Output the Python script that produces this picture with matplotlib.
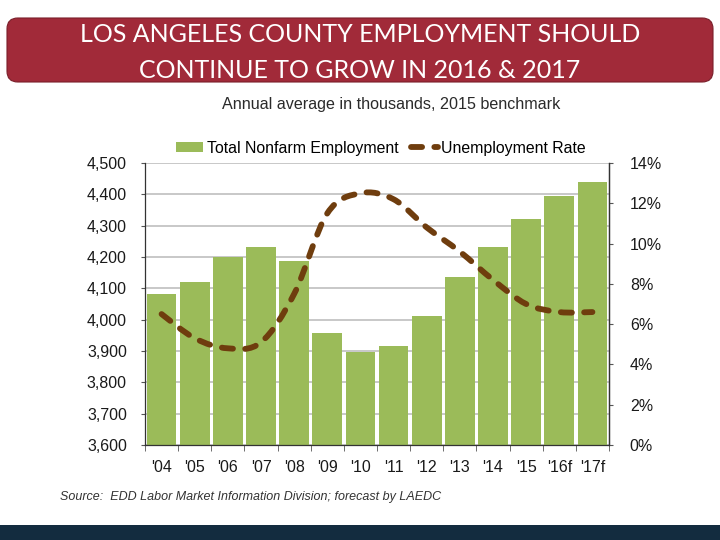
import numpy as np
import matplotlib
matplotlib.use("Agg")
import matplotlib.pyplot as plt
from matplotlib.patches import FancyBboxPatch, PathPatch, Rectangle, Patch
from matplotlib.path import Path
from matplotlib.lines import Line2D

years = ["'04", "'05", "'06", "'07", "'08", "'09", "'10", "'11", "'12", "'13", "'14", "'15", "'16f", "'17f"]
employment = [4081, 4119, 4199, 4232, 4187, 3956, 3896, 3915, 4011, 4136, 4232, 4322, 4395, 4440]
unemployment = [6.5, 5.3, 4.8, 5.1, 7.5, 11.5, 12.5, 12.2, 10.8, 9.6, 8.2, 7.0, 6.6, 6.6]
left_ticks = [3600, 3700, 3800, 3900, 4000, 4100, 4200, 4300, 4400, 4500]
right_ticks = [0, 2, 4, 6, 8, 10, 12, 14]

bar_color = "#9BBB59"
line_color = "#6F3D0E"
tfont = ["Lato", "DejaVu Sans"]

fig = plt.figure(figsize=(7.2, 5.4), dpi=100)
fig.patch.set_facecolor("white")

# Title banner
banner = FancyBboxPatch((7 / 720, 1 - 82 / 540), 706 / 720, 64 / 540,
                        boxstyle="round,pad=0,rounding_size=0.015",
                        transform=fig.transFigure, facecolor="#A12A39",
                        edgecolor="#7a1f2a", linewidth=0.8, mutation_aspect=720 / 540)
fig.patches.append(banner)
fig.text(0.5, 1 - 35 / 540, "LOS ANGELES COUNTY EMPLOYMENT SHOULD", color="white",
         ha="center", va="center", fontsize=18, family=tfont)
fig.text(0.5, 1 - 70 / 540, "CONTINUE TO GROW IN 2016 & 2017", color="white",
         ha="center", va="center", fontsize=18, family=tfont)

# bottom band
fig.patches.append(Rectangle((0, 0), 1, 15 / 540, transform=fig.transFigure,
                             facecolor="#132C3F", edgecolor="none"))

fig.text(391 / 720, 1 - 104 / 540, "Annual average in thousands, 2015 benchmark",
         ha="center", va="center", fontsize=11.6, color="#2a2a2a", family="Liberation Sans")

ax = fig.add_axes([145 / 720, 1 - 445 / 540, 464 / 720, 282 / 540])
x = np.arange(len(years))
ax.bar(x, employment, width=0.9, color=bar_color, zorder=2)
ax.set_ylim(3600, 4500)
ax.set_xlim(-0.5, len(years) - 0.5)
ax.set_yticks(left_ticks)
ax.set_yticklabels([f"{v:,}" for v in left_ticks])
ax.set_xticks(x)
ax.set_xticklabels(years)
ax.set_xticks(np.arange(-0.5, len(years), 1.0), minor=True)
ax.tick_params(axis="x", which="major", length=0, pad=11)
ax.tick_params(axis="x", which="minor", length=4, color="#555555")
ax.tick_params(axis="y", length=3, color="#555555", pad=10)
ax.grid(axis="y", color="#BFBFBF", linewidth=1.2, zorder=0)
ax.set_axisbelow(True)
for s in ["left", "bottom"]:
    ax.spines[s].set_color("#333333")
    ax.spines[s].set_linewidth(0.9)
ax.spines["top"].set_visible(False)
ax.spines["right"].set_color("#333333")
ax.spines["right"].set_linewidth(0.9)
for lab in ax.get_xticklabels() + ax.get_yticklabels():
    lab.set_fontfamily("Liberation Sans")
    lab.set_fontsize(11.5)
    lab.set_color("#1a1a1a")

ax2 = ax.twinx()
ax2.set_ylim(0, 14)
ax2.set_yticks(right_ticks)
ax2.set_yticklabels([f"{v}%" for v in right_ticks])
ax2.tick_params(axis="y", length=3, color="#555555", pad=12)
for s in ["left", "top", "bottom"]:
    ax2.spines[s].set_visible(False)
ax2.spines["right"].set_color("#333333")
ax2.spines["right"].set_linewidth(0.9)
for lab in ax2.get_yticklabels():
    lab.set_fontfamily("Liberation Sans")
    lab.set_fontsize(11.5)
    lab.set_color("#1a1a1a")

# smoothed line (Catmull-Rom as cubic Bezier)
P = np.column_stack([x, unemployment]).astype(float)
n = len(P)
verts = [tuple(P[0])]
codes = [Path.MOVETO]
for i in range(n - 1):
    p0 = P[i - 1] if i > 0 else P[i]
    p1 = P[i]
    p2 = P[i + 1]
    p3 = P[i + 2] if i + 2 < n else P[i + 1]
    c1 = p1 + (p2 - p0) / 6.0
    c2 = p2 - (p3 - p1) / 6.0
    verts += [tuple(c1), tuple(c2), tuple(p2)]
    codes += [Path.CURVE4] * 3
dash = (0, (1.9, 2.1))
pp = PathPatch(Path(verts, codes), facecolor="none", edgecolor=line_color,
               linewidth=4.2, linestyle=dash, capstyle="round", zorder=3)
ax2.add_patch(pp)

handles = [Patch(facecolor=bar_color, edgecolor="none"),
           Line2D([], [], color=line_color, linewidth=4.2, linestyle=dash,
                  dash_capstyle="round")]
fig.legend(handles, ["Total Nonfarm Employment", "Unemployment Rate"],
           loc="center", bbox_to_anchor=(381 / 720, 1 - 148 / 540), ncol=2,
           frameon=False, handlelength=1.7, handleheight=0.6, handletextpad=0.2,
           columnspacing=0.8, prop={"family": "Liberation Sans", "size": 11.4})

fig.text(60 / 720, 1 - 497 / 540, "Source:  EDD Labor Market Information Division; forecast by LAEDC",
         ha="left", va="center", fontsize=9.0, style="italic", color="#333333",
         family="Liberation Sans")

fig.savefig("out.png", dpi=100)
